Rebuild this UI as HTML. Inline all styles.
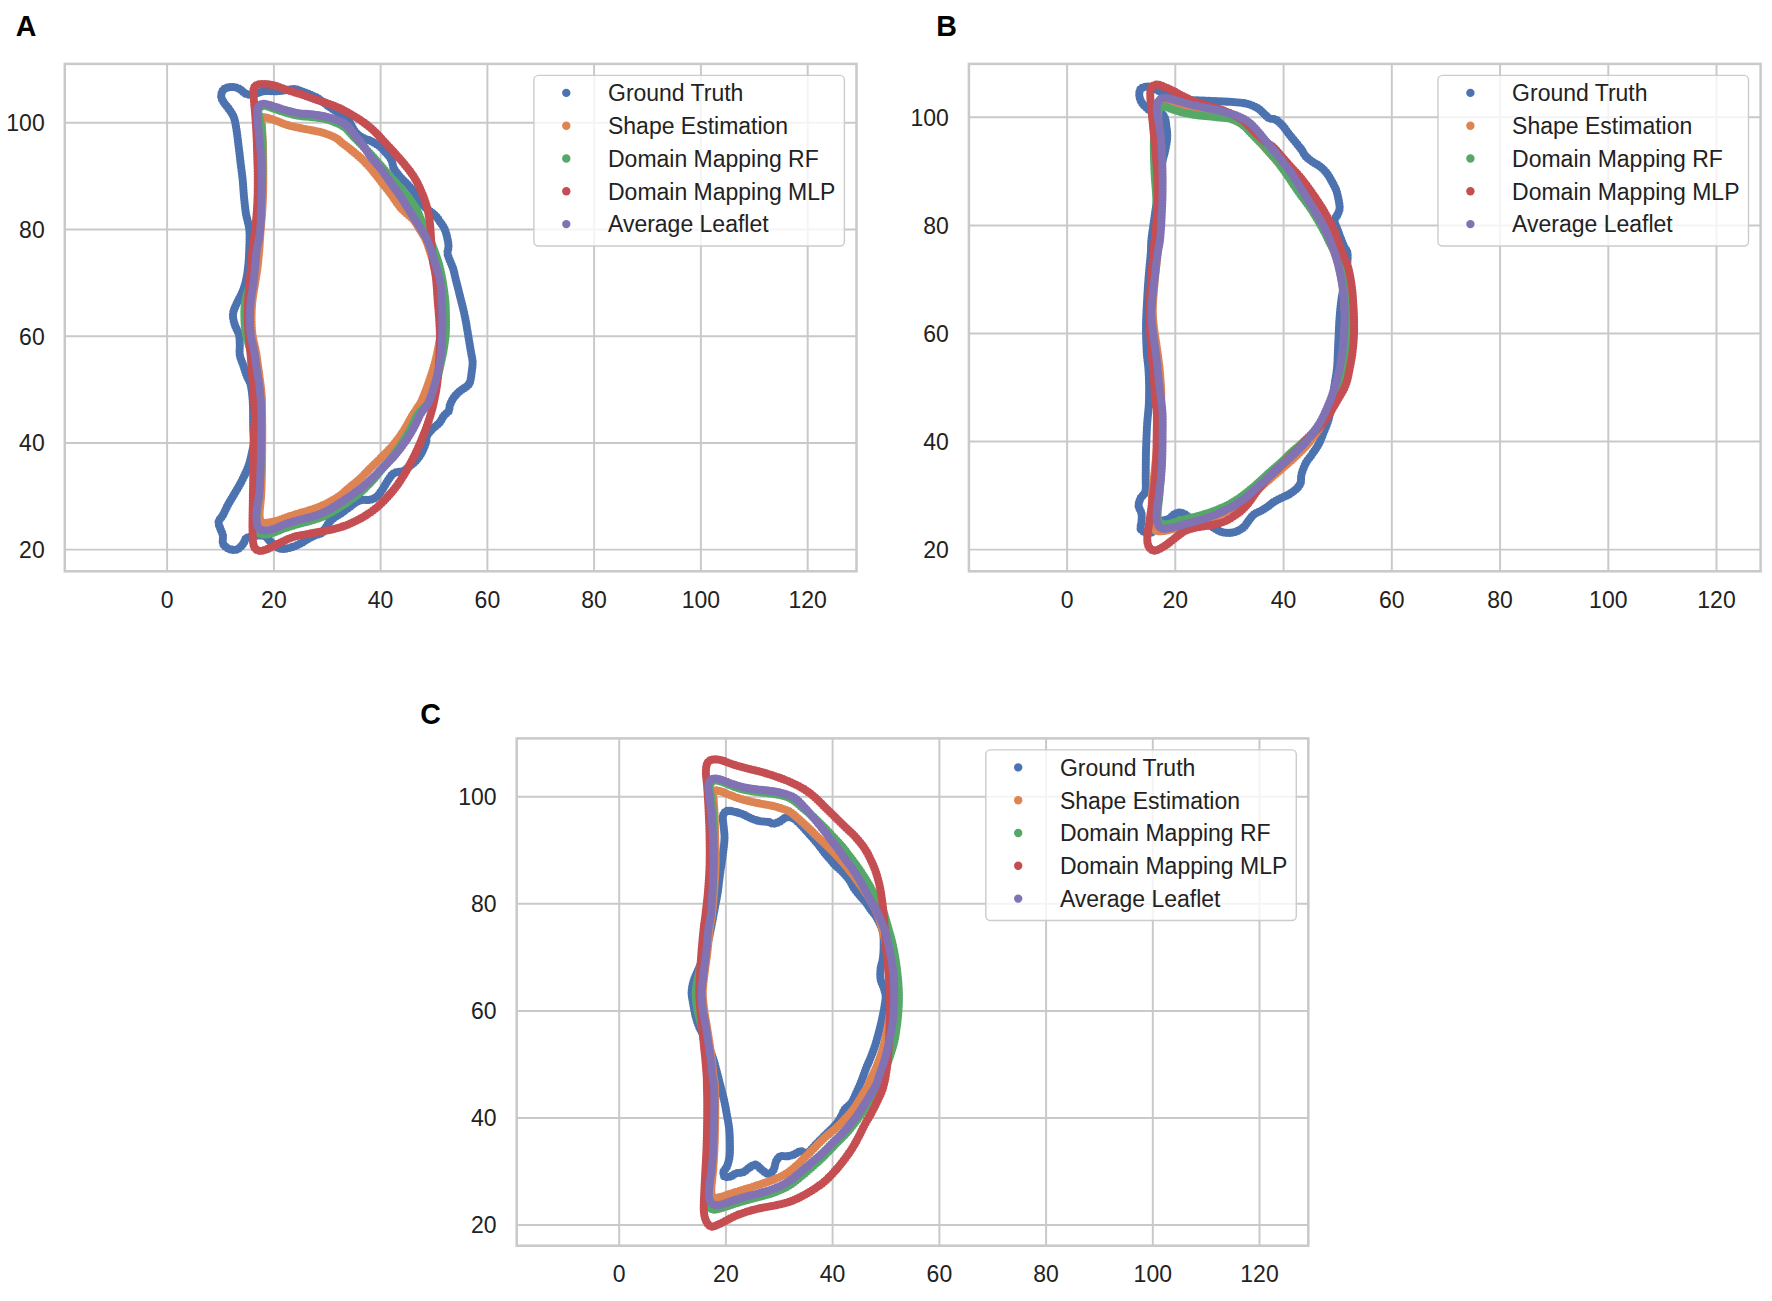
<!DOCTYPE html>
<html lang="en"><head><meta charset="utf-8"><title>Leaflet contours</title>
<style>html,body{margin:0;padding:0;background:#fff}svg{display:block}text{font-family:"Liberation Sans",Arial,Helvetica,sans-serif}.t{font-size:23.0px;fill:#222222}.pl{font-size:28.6px;font-weight:bold;fill:#000}.c{fill:none;stroke-width:8.1;stroke-linecap:round;stroke-linejoin:round;stroke-dasharray:0 2.9}.g{stroke:#c9c9c9;stroke-width:1.95;fill:none}.f{stroke:#c9c9c9;stroke-width:2.5;fill:none}</style></head><body>
<svg width="1772" height="1301" viewBox="0 0 1772 1301">
<rect width="1772" height="1301" fill="#fff"/>
<g id="panelA">
<text class="pl" transform="translate(15.8 36.2) scale(1 1.05)">A</text>
<path class="g" d="M167.1 63.9V571.3M273.9 63.9V571.3M380.6 63.9V571.3M487.4 63.9V571.3M594.1 63.9V571.3M700.9 63.9V571.3M807.7 63.9V571.3M64.8 549.6H856.5M64.8 442.9H856.5M64.8 336.2H856.5M64.8 229.4H856.5M64.8 122.7H856.5"/>
<clipPath id="cp0"><rect x="64.8" y="63.9" width="791.7" height="507.4"/></clipPath>
<g clip-path="url(#cp0)">
<path class="c" stroke="#4c72b0" d="M253.2 427.8C253.0 421.1 253.2 409.4 252.8 402.4C252.4 395.3 251.8 390.0 250.8 385.4C249.7 380.9 247.8 378.7 246.6 375.3C245.3 371.9 244.3 368.5 243.2 365.1C242.0 361.7 240.3 358.4 239.8 355.0C239.2 351.6 239.9 348.2 239.8 344.8C239.6 341.4 239.8 338.0 238.9 334.7C238.1 331.3 235.7 327.9 234.7 324.5C233.7 321.1 232.7 317.7 233.0 314.3C233.3 310.9 234.8 307.8 236.4 304.2C238.0 300.5 240.7 296.3 242.3 292.3C243.9 288.4 245.1 284.7 246.0 280.5C247.0 276.2 247.6 271.4 248.1 266.9C248.6 262.4 248.9 259.4 249.1 253.4C249.3 247.4 249.9 237.4 249.4 230.8C248.9 224.3 247.0 219.5 246.0 213.9C245.1 208.3 244.6 202.6 244.0 197.0C243.5 191.3 243.2 185.7 242.7 180.0C242.1 174.4 241.3 168.8 240.6 163.1C240.0 157.5 239.3 151.8 238.6 146.2C237.9 140.5 237.2 134.1 236.4 129.3C235.6 124.5 235.1 120.8 233.9 117.4C232.6 114.0 230.5 111.5 228.8 108.9C227.1 106.4 225.0 104.3 223.7 102.2C222.4 100.1 221.2 98.4 221.2 96.2C221.2 94.1 222.0 91.0 223.7 89.5C225.4 87.9 228.8 87.1 231.3 86.9C233.9 86.8 236.5 87.5 238.9 88.6C241.3 89.8 243.5 92.7 245.7 93.7C248.0 94.7 249.4 95.0 252.5 94.5C255.6 94.1 260.4 91.7 264.3 91.2C268.3 90.6 272.2 91.4 276.2 91.2C280.1 91.0 284.9 90.3 288.0 90.0C291.1 89.6 292.6 88.8 294.8 89.0C297.1 89.2 299.0 90.2 301.6 91.2C304.1 92.1 307.2 93.3 310.0 94.5C312.9 95.8 315.4 96.8 318.5 98.8C321.6 100.8 325.3 104.0 328.7 106.4C332.1 108.8 335.7 111.1 338.8 113.2C341.9 115.3 345.2 117.0 347.3 119.1C349.4 121.2 350.1 123.6 351.5 125.9C352.9 128.1 353.9 130.7 355.8 132.6C357.6 134.6 360.0 136.3 362.5 137.7C365.1 139.1 368.2 139.7 371.0 141.1C373.8 142.5 376.9 144.2 379.5 146.2C382.0 148.2 384.3 150.7 386.2 153.0C388.2 155.2 390.0 157.2 391.3 159.7C392.6 162.3 392.4 165.4 393.8 168.2C395.3 171.0 397.4 173.8 399.8 176.7C402.2 179.5 405.7 182.3 408.2 185.1C410.8 187.9 413.0 190.8 415.0 193.6C417.0 196.4 418.1 199.5 420.1 202.1C422.1 204.6 424.3 206.6 426.9 208.8C429.4 211.1 433.1 213.3 435.3 215.6C437.6 217.9 438.9 220.1 440.4 222.4C442.0 224.6 443.5 226.6 444.6 229.1C445.8 231.7 446.5 234.8 447.2 237.6C447.8 240.4 448.5 243.4 448.5 246.1C448.6 248.7 447.3 251.0 447.5 253.4C447.7 255.7 448.8 257.6 449.7 260.2C450.6 262.7 452.1 265.5 453.1 268.6C454.1 271.7 454.8 275.4 455.6 278.8C456.5 282.2 457.3 285.6 458.2 288.9C459.0 292.3 459.9 295.7 460.7 299.1C461.6 302.5 462.4 305.6 463.3 309.3C464.1 312.9 465.1 317.4 465.8 321.1C466.5 324.8 466.9 327.9 467.5 331.3C468.1 334.7 468.6 338.0 469.2 341.4C469.8 344.8 470.3 348.2 470.9 351.6C471.4 355.0 472.4 358.4 472.6 361.7C472.7 365.1 472.3 368.2 471.7 371.9C471.2 375.6 471.0 380.6 469.2 383.7C467.4 386.9 463.3 388.3 460.7 390.5C458.2 392.8 455.8 394.8 454.0 397.3C452.1 399.8 450.6 403.5 449.7 405.8C448.9 408.0 449.9 409.1 448.9 410.8C447.9 412.5 445.3 413.9 443.8 415.9C442.2 417.9 441.5 420.4 439.6 422.7C437.6 424.9 434.1 427.2 431.9 429.5C429.8 431.7 427.8 434.1 426.9 436.2C425.9 438.4 426.9 439.6 426.0 442.3C425.2 445.0 423.5 449.4 421.8 452.5C420.1 455.6 417.8 458.7 415.9 460.9C413.9 463.2 412.0 464.3 409.9 466.0C407.8 467.7 405.7 470.0 403.2 471.1C400.6 472.2 397.0 471.7 394.7 472.8C392.4 473.9 391.2 475.9 389.6 477.9C388.1 479.9 386.8 482.4 385.4 484.7C384.0 486.9 382.7 489.3 381.2 491.4C379.6 493.5 378.0 495.9 376.1 497.3C374.1 498.8 371.6 499.5 369.3 499.9C367.0 500.3 364.8 499.5 362.5 499.9C360.3 500.3 358.0 501.2 355.8 502.4C353.5 503.7 351.2 505.8 349.0 507.5C346.7 509.2 344.5 511.0 342.2 512.6C340.0 514.1 337.6 515.3 335.4 516.8C333.3 518.4 331.1 520.2 329.5 521.9C328.0 523.6 327.4 525.1 326.1 527.0C324.9 528.8 323.7 531.5 321.9 532.9C320.1 534.3 317.4 534.5 315.1 535.4C312.9 536.4 310.9 537.4 308.4 538.8C305.8 540.2 302.7 542.5 299.9 543.9C297.1 545.3 294.2 546.4 291.4 547.3C288.6 548.1 285.4 549.0 283.0 549.0C280.6 549.0 278.9 548.3 277.0 547.3C275.2 546.3 273.4 544.3 272.0 543.1C270.5 541.8 269.7 540.8 268.6 539.7C267.4 538.5 266.7 537.0 265.2 536.3C263.6 535.6 261.1 535.4 259.3 535.4C257.4 535.4 256.3 535.9 254.2 536.3C252.1 536.7 248.4 536.7 246.6 538.0C244.7 539.2 244.6 542.1 243.2 543.9C241.8 545.7 239.9 548.0 238.1 549.0C236.3 550.0 234.1 550.1 232.2 549.8C230.2 549.5 227.8 548.4 226.2 547.3C224.7 546.2 223.4 545.0 222.9 543.1C222.3 541.1 223.3 537.8 222.9 535.4C222.4 533.0 221.0 530.9 220.3 528.7C219.6 526.4 218.2 524.2 218.6 521.9C219.0 519.6 221.3 517.9 222.9 515.1C224.4 512.3 226.1 508.4 227.9 505.0C229.8 501.6 231.9 498.2 233.9 494.8C235.8 491.4 238.0 488.0 239.8 484.7C241.6 481.3 243.3 477.9 244.9 474.5C246.4 471.1 248.0 467.7 249.1 464.3C250.2 460.9 250.8 457.8 251.6 454.2C252.4 450.5 253.6 446.7 253.8 442.3C254.1 437.9 253.3 434.4 253.2 427.8Z"/>
<path class="c" stroke="#dd8452" d="M259.6 515.1C259.5 510.3 260.9 501.0 261.3 493.1C261.7 485.2 261.8 477.6 262.0 467.7C262.1 457.8 262.3 443.5 262.3 433.9C262.3 424.3 262.1 416.8 262.0 410.2C261.9 403.5 262.2 400.8 261.6 393.9C261.0 387.0 259.4 375.6 258.4 368.5C257.4 361.5 256.9 357.2 255.9 351.6C254.9 345.9 253.2 340.3 252.5 334.7C251.8 329.0 251.6 323.4 251.6 317.7C251.6 312.1 251.9 306.4 252.5 300.8C253.0 295.1 254.2 289.5 255.0 283.9C255.9 278.2 256.9 272.6 257.6 266.9C258.3 261.3 258.7 256.0 259.3 250.0C259.8 244.0 260.0 238.3 260.6 230.8C261.2 223.4 262.2 213.9 262.6 205.4C263.1 197.0 263.2 188.5 263.3 180.0C263.4 171.6 263.3 161.7 263.1 154.7C263.0 147.6 262.8 142.5 262.6 137.7C262.4 132.9 262.1 129.2 262.0 125.9C261.9 122.5 261.0 118.9 262.0 117.6C262.9 116.3 265.3 117.5 267.7 118.1C270.1 118.6 272.8 119.6 276.2 120.8C279.6 122.0 283.8 123.9 288.0 125.2C292.3 126.5 297.1 127.4 301.6 128.4C306.1 129.4 311.2 130.1 315.1 130.9C319.1 131.8 321.9 132.4 325.3 133.5C328.7 134.6 332.8 136.3 335.4 137.7C338.0 139.1 338.4 140.0 340.9 142.0C343.3 143.9 346.9 146.6 350.2 149.2C353.4 151.9 356.9 154.5 360.3 157.7C363.7 160.9 367.1 164.3 370.5 168.2C373.9 172.1 377.3 176.6 380.6 180.9C384.0 185.2 388.0 190.1 390.8 193.9C393.6 197.7 395.6 201.1 397.6 203.7C399.6 206.4 400.1 207.3 402.8 210.0C405.5 212.7 410.8 216.8 413.7 220.0C416.5 223.2 417.8 226.3 419.8 229.5C421.7 232.6 423.7 235.0 425.5 239.0C427.3 242.9 429.0 248.7 430.6 253.4C432.2 258.0 433.7 261.9 435.0 266.9C436.2 272.0 437.2 278.2 438.0 283.9C438.9 289.5 439.4 295.1 439.9 300.8C440.3 306.4 440.7 312.1 440.7 317.7C440.8 323.4 440.9 329.0 440.4 334.7C439.9 340.3 438.5 346.5 437.5 351.6C436.5 356.7 435.9 359.5 434.3 365.1C432.7 370.8 429.9 379.2 427.7 385.4C425.5 391.6 422.5 398.8 420.9 402.4C419.3 405.9 419.6 404.3 418.1 406.8C416.5 409.2 413.8 413.3 411.6 416.9C409.4 420.6 407.1 425.1 404.9 428.8C402.6 432.4 400.6 435.6 398.1 438.9C395.5 442.3 392.7 445.7 389.6 449.1C386.5 452.5 382.8 455.9 379.5 459.3C376.1 462.6 372.7 466.0 369.3 469.4C365.9 472.8 362.5 476.5 359.1 479.6C355.8 482.7 352.4 485.2 349.0 488.0C345.6 490.9 342.5 494.0 338.8 496.5C335.2 499.0 330.9 501.3 327.0 503.3C323.0 505.2 319.4 506.8 315.1 508.4C310.9 509.9 306.1 511.2 301.6 512.6C297.1 514.0 292.3 515.4 288.0 516.8C283.8 518.2 279.6 520.1 276.2 521.0C272.8 522.0 270.1 522.5 267.7 522.7C265.3 522.9 263.1 523.5 261.8 522.2C260.4 521.0 259.7 520.0 259.6 515.1Z"/>
<path class="c" stroke="#55a868" d="M256.2 518.5C256.8 513.0 258.5 501.6 259.3 493.1C260.0 484.7 260.3 477.6 260.6 467.7C260.9 457.8 260.9 443.5 260.9 433.9C260.9 424.3 260.8 415.4 260.6 410.2C260.5 404.9 260.5 406.5 260.1 402.4C259.7 398.3 259.3 391.1 258.4 385.4C257.6 379.8 256.3 374.2 255.0 368.5C253.8 362.9 252.3 357.2 250.8 351.6C249.3 345.9 247.1 340.3 246.0 334.7C245.0 329.0 244.5 323.4 244.4 317.7C244.2 312.1 244.4 306.4 245.4 300.8C246.3 295.1 248.6 289.5 249.9 283.9C251.3 278.2 252.3 272.6 253.3 266.9C254.3 261.3 254.9 256.0 255.9 250.0C256.9 244.0 258.4 238.3 259.3 230.8C260.1 223.4 260.4 213.9 260.9 205.4C261.5 197.0 262.0 188.5 262.3 180.0C262.6 171.6 262.6 161.7 262.6 154.7C262.6 147.6 262.7 143.4 262.3 137.7C261.9 132.1 260.8 125.4 260.1 120.8C259.5 116.2 257.8 112.8 258.4 110.3C259.0 107.8 261.1 106.1 263.5 105.7C265.9 105.4 269.3 107.2 272.8 108.3C276.3 109.4 280.4 111.1 284.7 112.3C288.9 113.6 293.7 114.9 298.2 115.7C302.7 116.5 307.2 116.5 311.7 117.1C316.3 117.6 321.0 118.1 325.3 119.1C329.5 120.1 333.7 121.7 337.1 123.2C340.5 124.7 342.9 125.9 345.6 128.1C348.3 130.3 350.4 133.4 353.2 136.4C356.0 139.3 359.4 142.5 362.5 145.7C365.6 148.9 368.4 151.7 371.8 155.5C375.3 159.3 379.3 164.1 383.4 168.7C387.4 173.3 391.8 178.2 395.9 182.9C400.0 187.7 404.7 192.9 408.1 197.1C411.5 201.4 414.1 204.9 416.2 208.5C418.3 212.1 418.8 214.6 420.6 218.6C422.4 222.7 424.9 228.1 426.9 232.5C428.8 237.0 430.8 241.6 432.3 245.2C433.7 248.8 434.4 250.6 435.7 254.2C436.9 257.8 438.5 262.0 439.7 266.9C441.0 271.9 442.2 278.2 443.1 283.9C444.0 289.5 444.8 295.1 445.3 300.8C445.8 306.4 445.9 312.1 446.0 317.7C446.0 323.4 446.1 329.1 445.7 334.7C445.2 340.2 444.4 345.4 443.5 350.7C442.5 356.1 441.4 360.9 440.1 366.8C438.7 372.7 437.2 380.2 435.3 386.3C433.4 392.4 431.4 398.7 428.6 403.2C425.7 407.8 421.1 409.8 418.4 413.5C415.7 417.2 414.6 421.4 412.5 425.4C410.4 429.3 408.1 433.3 405.7 437.2C403.3 441.2 400.8 445.3 398.1 449.1C395.4 452.9 392.6 456.4 389.6 460.1C386.7 463.8 383.4 467.4 380.3 471.1C377.2 474.8 374.4 478.5 371.0 482.1C367.6 485.7 363.8 489.5 360.0 492.8C356.2 496.0 352.1 498.8 348.1 501.6C344.2 504.4 340.2 507.1 336.3 509.5C332.3 511.9 328.5 514.1 324.4 516.0C320.3 517.8 316.1 519.2 311.7 520.5C307.4 521.9 302.7 522.8 298.2 524.1C293.7 525.4 288.6 526.9 284.7 528.3C280.7 529.7 277.7 531.3 274.5 532.4C271.2 533.4 267.9 534.5 265.2 534.6C262.5 534.7 260.0 534.3 258.4 532.9C256.9 531.5 256.2 528.5 255.9 526.1C255.5 523.7 255.6 524.0 256.2 518.5Z"/>
<path class="c" stroke="#c44e52" d="M252.5 527.0C252.4 519.9 252.7 511.5 252.8 501.6C253.0 491.7 253.2 479.0 253.3 467.7C253.5 456.4 253.6 441.9 253.8 433.9C254.1 425.8 254.8 424.5 254.9 419.3C254.9 414.1 254.5 408.0 254.2 402.4C253.9 396.7 253.4 391.1 253.0 385.4C252.6 379.8 252.1 374.2 251.6 368.5C251.2 362.9 250.8 357.2 250.3 351.6C249.8 345.9 249.0 340.3 248.6 334.7C248.2 329.0 247.8 323.4 247.7 317.7C247.7 312.1 247.8 306.4 248.1 300.8C248.4 295.1 248.9 289.5 249.4 283.9C249.9 278.2 250.6 272.6 251.1 266.9C251.6 261.3 251.8 256.0 252.5 250.0C253.1 244.0 254.2 238.3 255.0 230.8C255.8 223.4 256.8 213.9 257.2 205.4C257.7 197.0 257.7 188.5 257.7 180.0C257.7 171.6 257.5 163.1 257.2 154.7C257.0 146.2 256.6 136.3 256.2 129.3C255.8 122.2 255.4 117.4 255.0 112.3C254.6 107.2 254.0 102.7 253.8 98.8C253.6 94.8 253.1 91.0 253.8 88.6C254.6 86.2 256.1 85.1 258.4 84.4C260.7 83.7 264.8 84.1 267.7 84.4C270.7 84.7 272.8 85.1 276.2 86.1C279.6 87.1 283.8 88.9 288.0 90.3C292.3 91.7 296.5 92.9 301.6 94.5C306.7 96.2 312.9 98.5 318.5 100.5C324.2 102.4 330.4 104.3 335.4 106.4C340.5 108.5 344.5 110.6 349.0 113.2C353.5 115.7 358.3 118.6 362.5 121.6C366.8 124.7 370.6 127.7 374.4 131.3C378.2 134.9 381.7 139.2 385.4 143.1C389.1 147.1 392.9 151.0 396.4 155.0C399.9 158.9 403.4 162.9 406.5 166.8C409.7 170.8 412.6 174.7 415.0 178.7C417.4 182.6 419.2 186.6 420.9 190.5C422.7 194.5 424.2 198.4 425.5 202.4C426.8 206.3 427.8 210.3 428.6 214.2C429.3 218.2 429.8 221.9 430.2 226.1C430.7 230.3 430.8 234.9 431.1 239.3C431.4 243.7 431.6 248.6 431.9 252.5C432.3 256.4 432.6 259.2 433.1 262.7C433.7 266.2 434.8 270.2 435.3 273.7C435.9 277.2 436.1 279.3 436.5 283.9C436.9 288.4 437.3 295.1 437.7 300.8C438.1 306.4 438.7 312.1 439.1 317.7C439.4 323.4 439.8 329.0 439.9 334.7C440.0 340.3 439.8 346.2 439.6 351.6C439.4 356.9 439.1 361.2 438.7 366.8C438.3 372.5 437.7 380.1 437.0 385.4C436.3 390.8 435.3 394.9 434.5 399.0C433.6 403.1 433.1 406.0 431.9 410.2C430.8 414.3 429.3 419.2 427.7 423.7C426.2 428.2 424.5 432.7 422.6 437.2C420.8 441.8 418.8 446.3 416.7 450.8C414.6 455.3 412.2 460.1 409.9 464.3C407.7 468.6 405.4 472.5 403.2 476.2C400.9 479.9 398.9 483.0 396.4 486.3C393.8 489.7 391.0 493.1 387.9 496.5C384.8 499.9 381.2 503.7 377.8 506.7C374.4 509.6 371.3 511.9 367.6 514.3C363.9 516.7 359.7 519.1 355.8 521.0C351.8 523.0 347.9 524.7 343.9 526.1C340.0 527.5 336.3 528.5 332.1 529.5C327.8 530.5 323.0 531.2 318.5 532.1C314.0 532.9 309.2 533.7 305.0 534.6C300.7 535.4 297.1 535.9 293.1 537.1C289.2 538.4 284.9 540.5 281.3 542.2C277.6 543.9 274.2 545.9 271.1 547.3C268.0 548.7 265.0 550.3 262.6 550.7C260.2 551.1 258.3 551.0 256.7 549.8C255.2 548.7 254.0 547.7 253.3 543.9C252.6 540.1 252.6 534.0 252.5 527.0Z"/>
<path class="c" stroke="#8172b3" d="M256.7 510.0C257.1 505.2 258.6 500.2 259.3 493.1C259.9 486.1 260.3 477.6 260.6 467.7C260.9 457.8 261.2 443.5 261.3 433.9C261.4 424.3 261.3 415.4 261.3 410.2C261.2 404.9 261.3 406.5 260.9 402.4C260.6 398.3 260.0 391.1 259.3 385.4C258.5 379.8 257.6 374.2 256.7 368.5C255.9 362.9 255.2 357.2 254.2 351.6C253.2 345.9 251.5 340.3 250.8 334.7C250.1 329.0 249.9 323.4 249.9 317.7C249.9 312.1 250.2 306.4 250.8 300.8C251.4 295.1 252.6 289.5 253.3 283.9C254.0 278.2 254.5 272.6 255.0 266.9C255.6 261.3 255.9 256.0 256.7 250.0C257.6 244.0 259.3 238.3 260.1 230.8C260.9 223.4 261.0 213.9 261.3 205.4C261.6 197.0 261.9 188.5 261.8 180.0C261.7 171.6 261.4 161.7 260.9 154.7C260.5 147.6 259.8 143.4 259.3 137.7C258.7 132.1 257.8 125.6 257.6 120.8C257.3 116.0 256.7 111.8 257.6 108.9C258.4 106.1 260.4 104.4 262.6 103.9C264.9 103.3 267.4 104.6 271.1 105.6C274.8 106.5 280.1 108.5 284.7 109.8C289.2 111.1 293.7 112.4 298.2 113.2C302.7 113.9 307.2 113.8 311.7 114.4C316.3 114.9 320.8 115.5 325.3 116.6C329.8 117.6 335.2 119.2 338.8 120.8C342.5 122.3 344.8 123.6 347.3 125.9C349.8 128.1 351.5 131.2 354.1 134.3C356.6 137.4 359.8 140.8 362.5 144.5C365.3 148.2 367.5 152.5 370.5 156.5C373.5 160.5 377.3 164.3 380.6 168.7C384.0 173.1 387.4 178.2 390.8 182.9C394.2 187.7 398.1 193.0 401.0 197.1C403.8 201.3 405.4 204.2 407.7 208.0C410.1 211.8 412.9 216.4 415.2 220.0C417.4 223.6 419.4 226.3 421.3 229.5C423.2 232.6 425.0 235.3 426.7 239.0C428.4 242.7 430.2 247.7 431.6 251.7C433.0 255.6 433.7 259.2 434.8 262.7C435.9 266.2 437.1 269.3 438.0 272.9C439.0 276.4 440.0 279.2 440.6 283.9C441.2 288.5 441.3 295.1 441.6 300.8C441.9 306.4 442.2 312.1 442.3 317.7C442.4 323.4 442.3 329.0 442.1 334.7C441.9 340.3 441.8 346.2 441.3 351.6C440.7 356.9 440.2 361.2 439.1 366.8C437.9 372.5 436.2 379.5 434.5 385.4C432.7 391.4 430.8 397.7 428.6 402.4C426.3 407.1 423.2 409.7 420.9 413.5C418.7 417.4 417.1 421.4 415.0 425.4C412.9 429.3 410.8 433.3 408.2 437.2C405.7 441.2 402.6 445.4 399.8 449.1C397.0 452.8 394.4 455.9 391.3 459.3C388.2 462.6 384.5 466.0 381.2 469.4C377.8 472.8 374.7 476.2 371.0 479.6C367.3 483.0 363.1 486.6 359.1 489.7C355.2 492.8 351.2 495.5 347.3 498.2C343.3 500.9 339.4 503.4 335.4 505.8C331.5 508.2 327.5 510.8 323.6 512.6C319.6 514.4 316.0 515.5 311.7 516.8C307.5 518.1 302.7 518.9 298.2 520.2C293.7 521.5 288.6 523.0 284.7 524.4C280.7 525.8 277.7 527.7 274.5 528.7C271.2 529.7 267.7 530.4 265.2 530.4C262.6 530.4 260.7 530.1 259.3 528.7C257.8 527.3 257.1 525.0 256.7 521.9C256.3 518.8 256.3 514.8 256.7 510.0Z"/>
</g>
<rect class="f" x="64.8" y="63.9" width="791.7" height="507.4"/>
<text class="t" text-anchor="middle" transform="translate(167.1 607.8) scale(1 1.06)">0</text>
<text class="t" text-anchor="middle" transform="translate(273.9 607.8) scale(1 1.06)">20</text>
<text class="t" text-anchor="middle" transform="translate(380.6 607.8) scale(1 1.06)">40</text>
<text class="t" text-anchor="middle" transform="translate(487.4 607.8) scale(1 1.06)">60</text>
<text class="t" text-anchor="middle" transform="translate(594.1 607.8) scale(1 1.06)">80</text>
<text class="t" text-anchor="middle" transform="translate(700.9 607.8) scale(1 1.06)">100</text>
<text class="t" text-anchor="middle" transform="translate(807.7 607.8) scale(1 1.06)">120</text>
<text class="t" text-anchor="end" transform="translate(44.7 557.9) scale(1 1.06)">20</text>
<text class="t" text-anchor="end" transform="translate(44.7 451.2) scale(1 1.06)">40</text>
<text class="t" text-anchor="end" transform="translate(44.7 344.5) scale(1 1.06)">60</text>
<text class="t" text-anchor="end" transform="translate(44.7 237.7) scale(1 1.06)">80</text>
<text class="t" text-anchor="end" transform="translate(44.7 131.0) scale(1 1.06)">100</text>
<rect x="533.9" y="75.4" width="310.5" height="170.6" rx="4.5" ry="4.5" fill="#fff" fill-opacity="0.8" stroke="#cccccc" stroke-width="1.4"/>
<circle cx="566.3" cy="92.9" r="4.2" fill="#4c72b0"/>
<text class="t" transform="translate(608.0 101.2) scale(1 1.03)">Ground Truth</text>
<circle cx="566.3" cy="125.7" r="4.2" fill="#dd8452"/>
<text class="t" transform="translate(608.0 134.0) scale(1 1.03)">Shape Estimation</text>
<circle cx="566.3" cy="158.5" r="4.2" fill="#55a868"/>
<text class="t" transform="translate(608.0 166.8) scale(1 1.03)">Domain Mapping RF</text>
<circle cx="566.3" cy="191.3" r="4.2" fill="#c44e52"/>
<text class="t" transform="translate(608.0 199.6) scale(1 1.03)">Domain Mapping MLP</text>
<circle cx="566.3" cy="224.1" r="4.2" fill="#8172b3"/>
<text class="t" transform="translate(608.0 232.4) scale(1 1.03)">Average Leaflet</text>
</g>
<g id="panelB">
<text class="pl" transform="translate(936.2 36.2) scale(1 1.05)">B</text>
<path class="g" d="M1067.1 63.9V571.3M1175.3 63.9V571.3M1283.6 63.9V571.3M1391.8 63.9V571.3M1500.1 63.9V571.3M1608.3 63.9V571.3M1716.5 63.9V571.3M968.9 549.6H1760.6M968.9 441.5H1760.6M968.9 333.4H1760.6M968.9 225.4H1760.6M968.9 117.3H1760.6"/>
<clipPath id="cp1"><rect x="968.9" y="63.9" width="791.7" height="507.4"/></clipPath>
<g clip-path="url(#cp1)">
<path class="c" stroke="#4c72b0" d="M1140.6 528.7C1140.1 527.0 1141.3 524.4 1141.5 521.9C1141.6 519.4 1142.0 516.1 1141.5 513.4C1141.0 510.8 1138.7 508.4 1138.6 505.8C1138.5 503.3 1139.5 500.6 1140.6 498.2C1141.8 495.8 1144.5 495.1 1145.4 491.4C1146.2 487.8 1145.6 483.0 1145.7 476.2C1145.8 469.4 1145.8 459.3 1146.0 450.8C1146.3 442.3 1146.6 433.0 1147.1 425.4C1147.5 417.8 1148.4 411.7 1148.8 405.1C1149.1 398.4 1149.2 391.5 1149.1 385.4C1149.0 379.3 1148.8 374.2 1148.4 368.5C1148.0 362.9 1147.1 358.6 1146.7 351.6C1146.3 344.5 1146.0 334.7 1146.0 326.2C1146.1 317.7 1146.6 309.3 1147.1 300.8C1147.5 292.3 1148.1 283.3 1148.8 275.4C1149.4 267.5 1150.3 259.4 1150.8 253.4C1151.2 247.4 1150.8 245.9 1151.5 239.3C1152.2 232.7 1153.8 222.4 1155.0 213.9C1156.2 205.4 1157.5 196.4 1158.6 188.5C1159.6 180.6 1160.2 172.8 1161.3 166.5C1162.4 160.2 1164.2 155.2 1165.2 150.4C1166.2 145.6 1167.0 141.5 1167.2 137.7C1167.4 133.9 1167.0 130.9 1166.5 127.6C1166.1 124.2 1165.9 120.4 1164.7 117.7C1163.5 115.1 1161.6 112.7 1159.3 111.5C1156.9 110.3 1153.2 111.5 1150.8 110.6C1148.4 109.8 1146.6 108.1 1144.9 106.4C1143.2 104.7 1141.6 102.6 1140.6 100.5C1139.7 98.4 1139.1 95.7 1139.3 93.7C1139.4 91.7 1139.8 89.5 1141.5 88.3C1143.1 87.1 1146.4 86.3 1149.1 86.6C1151.8 86.9 1154.7 88.8 1157.6 90.3C1160.4 91.8 1162.9 94.0 1166.0 95.4C1169.1 96.8 1172.5 98.0 1176.2 98.8C1179.9 99.6 1183.8 99.9 1188.0 100.1C1192.3 100.4 1196.5 100.3 1201.6 100.5C1206.7 100.7 1212.9 101.0 1218.5 101.3C1224.2 101.6 1230.6 101.7 1235.4 102.2C1240.2 102.6 1243.6 102.9 1247.3 103.9C1251.0 104.8 1254.6 106.4 1257.4 108.1C1260.3 109.8 1262.2 112.3 1264.2 114.0C1266.2 115.7 1267.3 117.3 1269.3 118.3C1271.3 119.2 1273.8 118.7 1276.1 119.9C1278.3 121.2 1280.9 123.8 1282.8 125.9C1284.8 128.0 1285.9 130.1 1287.9 132.6C1289.9 135.2 1292.4 138.3 1294.7 141.1C1297.0 143.9 1299.6 147.0 1301.5 149.6C1303.3 152.1 1303.7 154.2 1305.7 156.3C1307.7 158.5 1310.9 160.6 1313.3 162.3C1315.7 164.0 1317.8 164.7 1320.1 166.5C1322.3 168.3 1324.9 170.7 1326.9 173.3C1328.8 175.8 1330.4 178.9 1331.9 181.7C1333.5 184.6 1335.0 187.1 1336.2 190.2C1337.3 193.3 1338.1 197.3 1338.7 200.4C1339.3 203.5 1339.8 206.3 1339.6 208.8C1339.3 211.4 1337.9 213.6 1337.0 215.6C1336.2 217.6 1334.3 218.1 1334.5 220.7C1334.6 223.2 1336.3 226.6 1337.9 230.8C1339.4 235.1 1342.2 242.3 1343.8 246.1C1345.4 249.8 1347.0 249.9 1347.5 253.4C1348.0 256.9 1347.4 261.9 1346.8 266.9C1346.3 272.0 1345.1 278.2 1344.1 283.9C1343.2 289.5 1342.0 295.1 1341.3 300.8C1340.5 306.4 1340.0 312.1 1339.6 317.7C1339.1 323.4 1339.0 329.0 1338.7 334.7C1338.4 340.3 1338.1 345.9 1337.9 351.6C1337.6 357.2 1337.6 362.9 1337.0 368.5C1336.5 374.2 1335.3 379.8 1334.5 385.4C1333.6 391.1 1332.9 396.7 1331.9 402.4C1331.0 408.0 1330.0 414.2 1328.6 419.3C1327.1 424.4 1325.2 428.6 1323.5 432.8C1321.8 437.1 1320.4 441.0 1318.4 444.7C1316.4 448.4 1313.7 451.7 1311.6 454.9C1309.5 458.0 1307.4 460.0 1305.7 463.3C1304.0 466.6 1302.3 471.2 1301.5 474.5C1300.6 477.8 1301.5 480.6 1300.6 483.0C1299.8 485.4 1298.2 487.0 1296.4 488.9C1294.6 490.7 1291.9 492.6 1289.6 494.0C1287.4 495.4 1285.4 496.1 1282.8 497.3C1280.3 498.6 1276.9 500.0 1274.4 501.6C1271.8 503.1 1269.9 505.1 1267.6 506.7C1265.3 508.2 1263.1 509.6 1260.8 510.9C1258.6 512.2 1256.0 512.7 1254.1 514.3C1252.1 515.8 1250.7 518.1 1249.0 520.2C1247.3 522.3 1245.9 525.1 1243.9 527.0C1241.9 528.8 1239.5 530.2 1237.1 531.2C1234.7 532.2 1232.1 532.8 1229.5 532.9C1227.0 533.0 1224.3 532.8 1221.9 532.1C1219.5 531.3 1217.4 529.9 1215.1 528.7C1212.9 527.4 1210.9 525.7 1208.4 524.4C1205.8 523.2 1203.0 522.0 1199.9 521.0C1196.8 520.1 1192.0 519.5 1189.7 518.5C1187.5 517.5 1187.9 516.1 1186.3 515.1C1184.8 514.1 1182.4 512.7 1180.4 512.6C1178.4 512.4 1176.3 513.3 1174.5 514.3C1172.7 515.3 1171.4 517.4 1169.4 518.5C1167.4 519.6 1164.6 519.8 1162.6 521.0C1160.7 522.3 1159.5 524.2 1157.6 526.1C1155.6 528.1 1152.9 531.9 1150.8 532.9C1148.7 533.9 1146.6 532.8 1144.9 532.1C1143.2 531.3 1141.2 530.4 1140.6 528.7Z"/>
<path class="c" stroke="#dd8452" d="M1154.2 528.7C1152.6 525.1 1152.5 515.7 1152.1 510.0C1151.8 504.4 1151.7 501.9 1152.1 494.8C1152.6 487.8 1154.0 477.9 1155.0 467.7C1156.1 457.6 1157.6 443.5 1158.4 433.9C1159.3 424.3 1159.6 416.8 1160.1 410.2C1160.6 403.5 1161.4 400.8 1161.3 393.9C1161.2 387.0 1160.4 377.0 1159.6 368.5C1158.7 360.0 1157.2 350.2 1156.2 343.1C1155.2 336.1 1154.4 331.8 1153.8 326.2C1153.3 320.5 1152.7 316.3 1152.8 309.3C1152.9 302.2 1153.8 292.3 1154.5 283.9C1155.2 275.4 1156.4 265.9 1157.2 258.5C1158.0 251.0 1158.6 246.7 1159.3 239.3C1159.9 231.9 1160.5 222.4 1160.9 213.9C1161.4 205.4 1161.7 197.0 1161.8 188.5C1161.9 180.0 1161.6 171.6 1161.3 163.1C1161.0 154.7 1160.6 144.8 1160.1 137.7C1159.6 130.7 1158.7 125.3 1158.4 120.8C1158.1 116.3 1157.8 113.3 1158.4 110.6C1159.0 108.0 1160.2 105.7 1161.8 104.7C1163.3 103.7 1165.3 104.3 1167.7 104.7C1170.1 105.1 1173.4 106.1 1176.2 106.9C1179.0 107.7 1181.0 108.4 1184.7 109.3C1188.3 110.1 1193.7 111.2 1198.2 112.0C1202.7 112.8 1207.2 113.2 1211.7 114.0C1216.3 114.8 1221.0 115.7 1225.3 116.9C1229.5 118.1 1233.6 119.5 1237.1 121.3C1240.7 123.1 1243.5 125.1 1246.4 127.6C1249.4 130.1 1252.1 133.3 1254.9 136.4C1257.7 139.4 1260.4 142.5 1263.4 145.8C1266.3 149.2 1269.4 152.8 1272.7 156.3C1275.9 159.9 1279.5 163.5 1282.8 167.3C1286.2 171.2 1289.9 175.2 1293.0 179.2C1296.1 183.1 1298.6 187.0 1301.5 191.0C1304.3 195.1 1307.3 199.5 1309.9 203.7C1312.6 208.0 1314.8 212.2 1317.2 216.4C1319.6 220.7 1322.2 224.9 1324.3 229.1C1326.4 233.4 1328.2 237.8 1329.9 241.8C1331.7 245.9 1333.4 249.2 1334.8 253.4C1336.3 257.6 1337.5 261.9 1338.7 266.9C1339.9 272.0 1341.2 278.2 1342.1 283.9C1343.0 289.5 1343.7 295.1 1344.1 300.8C1344.6 306.4 1344.9 312.1 1345.0 317.7C1345.0 323.4 1344.6 329.0 1344.3 334.7C1344.0 340.3 1343.6 345.9 1342.9 351.6C1342.3 357.2 1341.5 362.9 1340.4 368.5C1339.3 374.2 1338.1 379.8 1336.5 385.4C1335.0 391.1 1333.1 396.7 1331.1 402.4C1329.1 408.0 1326.9 414.1 1324.3 419.3C1321.8 424.5 1319.0 429.2 1315.9 433.7C1312.8 438.2 1309.4 442.3 1305.7 446.4C1302.0 450.5 1297.8 454.5 1293.8 458.2C1289.9 461.9 1286.1 465.0 1282.0 468.6C1277.9 472.1 1273.5 475.9 1269.3 479.6C1265.1 483.2 1260.8 487.0 1256.6 490.6C1252.4 494.1 1248.0 497.8 1243.9 500.7C1239.8 503.7 1236.3 506.0 1232.1 508.4C1227.8 510.8 1223.0 513.1 1218.5 515.1C1214.0 517.1 1209.2 518.8 1205.0 520.2C1200.7 521.6 1197.1 522.5 1193.1 523.6C1189.2 524.7 1184.9 526.0 1181.3 527.0C1177.6 528.0 1174.4 528.8 1171.1 529.5C1167.9 530.2 1164.6 531.3 1161.8 531.2C1159.0 531.1 1155.8 532.2 1154.2 528.7Z"/>
<path class="c" stroke="#55a868" d="M1157.6 515.1C1157.6 510.3 1159.0 501.0 1159.6 493.1C1160.2 485.2 1160.9 477.6 1161.3 467.7C1161.7 457.8 1161.8 443.5 1161.8 433.9C1161.8 424.3 1161.9 418.2 1161.3 410.2C1160.6 402.1 1158.9 393.8 1157.9 385.4C1156.9 377.1 1156.1 368.5 1155.0 360.0C1154.0 351.6 1152.5 341.7 1151.6 334.7C1150.8 327.6 1150.1 323.4 1149.9 317.7C1149.7 312.1 1150.0 307.8 1150.5 300.8C1150.9 293.7 1152.1 283.3 1152.8 275.4C1153.5 267.5 1153.8 262.2 1154.5 253.4C1155.2 244.5 1156.6 231.8 1156.9 222.4C1157.2 213.0 1156.6 205.4 1156.2 197.0C1155.8 188.5 1154.9 180.0 1154.5 171.6C1154.1 163.1 1153.8 153.2 1153.8 146.2C1153.8 139.1 1154.0 134.5 1154.5 129.3C1155.0 124.0 1155.4 118.6 1156.7 114.9C1158.1 111.1 1160.0 107.4 1162.6 106.6C1165.3 105.7 1169.1 108.5 1172.8 109.6C1176.5 110.7 1180.4 112.0 1184.7 113.0C1188.9 114.0 1193.7 114.8 1198.2 115.4C1202.7 116.0 1207.8 116.3 1211.7 116.7C1215.7 117.1 1218.6 117.3 1221.9 117.7C1225.2 118.1 1227.9 117.9 1231.4 119.1C1234.8 120.3 1238.8 121.9 1242.6 124.7C1246.3 127.5 1250.1 132.2 1253.9 136.0C1257.7 139.8 1261.5 143.3 1265.2 147.4C1269.0 151.5 1272.8 155.8 1276.6 160.6C1280.3 165.3 1284.0 170.6 1287.8 176.0C1291.5 181.3 1295.3 187.4 1299.1 192.7C1302.9 198.1 1307.4 203.6 1310.4 208.1C1313.5 212.7 1315.2 215.9 1317.6 219.8C1319.9 223.8 1322.3 227.8 1324.3 231.7C1326.4 235.5 1328.0 239.4 1329.9 243.0C1331.8 246.6 1333.8 249.4 1335.7 253.4C1337.6 257.4 1339.7 261.9 1341.3 266.9C1342.8 272.0 1344.1 278.2 1345.1 283.9C1346.2 289.5 1347.0 295.1 1347.5 300.8C1348.1 306.4 1348.4 312.1 1348.5 317.7C1348.6 323.4 1348.4 329.0 1348.0 334.7C1347.7 340.3 1347.1 345.9 1346.3 351.6C1345.6 357.2 1344.9 362.9 1343.5 368.5C1342.0 374.2 1339.9 379.8 1337.9 385.4C1335.8 391.1 1333.6 396.7 1331.1 402.4C1328.6 408.0 1325.6 414.4 1322.6 419.3C1319.7 424.2 1316.7 428.0 1313.3 432.0C1309.9 435.9 1306.3 439.3 1302.3 443.0C1298.4 446.7 1292.9 451.0 1289.6 454.0C1286.4 457.0 1286.2 457.8 1282.8 460.9C1279.5 464.1 1274.4 468.3 1269.3 472.8C1264.2 477.3 1258.0 483.4 1252.4 488.0C1246.7 492.7 1241.1 497.2 1235.4 500.7C1229.8 504.3 1224.2 506.8 1218.5 509.2C1212.9 511.6 1207.2 513.4 1201.6 515.1C1195.9 516.8 1189.7 518.0 1184.7 519.4C1179.6 520.7 1174.5 522.4 1171.1 523.3C1167.7 524.1 1166.3 524.7 1164.3 524.4C1162.4 524.2 1160.4 523.4 1159.3 521.9C1158.1 520.3 1157.5 519.9 1157.6 515.1Z"/>
<path class="c" stroke="#c44e52" d="M1147.4 535.4C1147.7 530.9 1149.0 525.6 1149.9 518.5C1150.9 511.5 1152.3 501.6 1153.3 493.1C1154.3 484.7 1155.3 477.6 1155.9 467.7C1156.4 457.8 1156.6 443.5 1156.7 433.9C1156.9 424.3 1157.0 415.4 1156.7 410.2C1156.5 404.9 1155.7 407.9 1155.2 402.4C1154.7 396.8 1154.5 385.4 1153.8 377.0C1153.2 368.5 1152.1 360.0 1151.5 351.6C1150.8 343.1 1150.1 334.7 1149.8 326.2C1149.5 317.7 1149.5 309.3 1149.8 300.8C1150.1 292.3 1150.8 283.3 1151.5 275.4C1152.1 267.5 1153.0 259.4 1153.5 253.4C1154.0 247.4 1154.2 244.5 1154.7 239.3C1155.2 234.1 1155.9 229.4 1156.4 222.4C1156.9 215.3 1157.4 205.4 1157.6 197.0C1157.7 188.5 1157.5 180.0 1157.1 171.6C1156.6 163.1 1155.6 153.2 1155.0 146.2C1154.4 139.1 1153.9 134.9 1153.3 129.3C1152.8 123.6 1152.1 117.7 1151.6 112.3C1151.1 107.0 1150.4 101.1 1150.3 97.1C1150.2 93.1 1150.1 90.4 1151.1 88.3C1152.2 86.2 1154.5 84.8 1156.7 84.6C1158.9 84.3 1161.7 85.9 1164.3 86.9C1167.0 87.9 1169.4 89.0 1172.8 90.7C1176.2 92.3 1180.7 95.2 1184.7 97.1C1188.6 99.0 1192.3 100.6 1196.5 102.2C1200.7 103.7 1205.5 105.0 1210.0 106.4C1214.6 107.8 1219.4 109.1 1223.6 110.6C1227.8 112.2 1231.8 113.7 1235.4 115.7C1239.1 117.7 1242.2 119.6 1245.6 122.5C1249.0 125.4 1252.4 129.7 1255.8 133.0C1259.1 136.2 1262.8 139.4 1265.9 142.0C1269.0 144.5 1270.6 144.6 1274.2 148.2C1277.8 151.8 1283.6 159.0 1287.8 163.6C1291.9 168.3 1295.3 171.5 1299.1 176.0C1302.9 180.5 1306.7 185.4 1310.4 190.7C1314.2 196.0 1318.0 201.4 1321.8 207.6C1325.5 213.8 1330.0 221.6 1333.0 228.0C1335.9 234.4 1337.9 241.3 1339.7 246.1C1341.5 250.9 1342.4 253.3 1343.8 256.8C1345.2 260.2 1346.8 262.4 1348.0 266.9C1349.3 271.4 1350.6 278.2 1351.4 283.9C1352.3 289.5 1352.7 295.1 1353.1 300.8C1353.5 306.4 1353.8 312.1 1354.0 317.7C1354.1 323.4 1354.2 329.0 1354.0 334.7C1353.7 340.3 1353.3 345.9 1352.6 351.6C1351.9 357.2 1350.9 362.9 1349.7 368.5C1348.5 374.2 1347.7 379.8 1345.5 385.4C1343.2 391.1 1339.4 396.7 1336.2 402.4C1332.9 408.0 1329.3 414.7 1326.0 419.3C1322.7 423.9 1319.4 426.7 1316.4 430.0C1313.3 433.2 1310.2 436.0 1307.6 438.8C1304.9 441.5 1303.2 443.7 1300.6 446.4C1298.1 449.1 1295.5 451.6 1292.2 454.9C1288.9 458.1 1285.0 462.0 1280.8 466.0C1276.6 470.1 1270.8 474.9 1266.8 479.2C1262.7 483.5 1259.6 487.9 1256.6 491.8C1253.6 495.6 1251.4 499.4 1249.0 502.4C1246.6 505.4 1244.5 507.6 1242.2 509.7C1240.0 511.8 1238.3 513.2 1235.4 515.1C1232.6 517.0 1228.7 519.5 1225.3 521.0C1221.9 522.6 1218.5 523.6 1215.1 524.4C1211.7 525.3 1208.4 525.6 1205.0 526.1C1201.6 526.7 1198.2 527.0 1194.8 527.8C1191.4 528.7 1187.8 529.7 1184.7 531.2C1181.5 532.8 1179.0 535.0 1176.2 537.1C1173.4 539.2 1170.5 541.9 1167.7 543.9C1164.9 545.9 1161.7 547.9 1159.3 549.0C1156.9 550.1 1155.2 551.2 1153.3 550.7C1151.5 550.1 1149.2 548.1 1148.3 545.6C1147.3 543.1 1147.1 540.0 1147.4 535.4Z"/>
<path class="c" stroke="#8172b3" d="M1156.7 511.7C1157.0 506.7 1158.4 500.5 1159.3 493.1C1160.1 485.8 1161.2 477.6 1161.8 467.7C1162.4 457.8 1162.6 443.5 1162.6 433.9C1162.7 424.3 1162.9 418.2 1162.3 410.2C1161.7 402.1 1160.2 393.8 1159.3 385.4C1158.3 377.1 1157.7 368.5 1156.7 360.0C1155.7 351.6 1154.2 341.7 1153.3 334.7C1152.5 327.6 1151.8 323.4 1151.6 317.7C1151.4 312.1 1151.6 307.8 1152.1 300.8C1152.7 293.7 1154.1 283.3 1155.0 275.4C1155.9 267.5 1156.7 259.4 1157.6 253.4C1158.4 247.4 1159.4 245.9 1160.1 239.3C1160.8 232.7 1161.4 222.4 1161.8 213.9C1162.2 205.4 1162.6 197.0 1162.6 188.5C1162.7 180.0 1162.6 171.6 1162.3 163.1C1162.0 154.7 1161.6 144.8 1160.9 137.7C1160.3 130.7 1159.1 125.6 1158.4 120.8C1157.7 116.0 1156.7 112.2 1156.7 108.9C1156.7 105.7 1157.1 103.2 1158.4 101.3C1159.7 99.5 1161.9 98.2 1164.3 97.9C1166.7 97.7 1169.4 98.8 1172.8 99.6C1176.2 100.5 1180.4 101.9 1184.7 103.0C1188.9 104.1 1193.7 105.4 1198.2 106.4C1202.7 107.4 1207.2 108.0 1211.7 108.9C1216.3 109.9 1220.8 111.1 1225.3 112.3C1229.8 113.6 1234.9 114.9 1238.8 116.6C1242.8 118.3 1245.9 120.1 1249.0 122.5C1252.1 124.9 1254.6 127.8 1257.4 130.9C1260.3 134.1 1263.1 137.7 1265.9 141.1C1268.7 144.5 1271.3 147.5 1274.4 151.3C1277.4 155.0 1281.1 159.4 1284.2 163.5C1287.3 167.5 1290.3 171.8 1293.0 175.8C1295.7 179.8 1297.5 183.1 1300.1 187.3C1302.7 191.5 1305.9 196.4 1308.6 200.9C1311.3 205.3 1313.7 209.5 1316.4 213.9C1319.0 218.3 1322.0 222.9 1324.3 227.4C1326.6 232.0 1328.5 236.7 1330.2 241.0C1332.0 245.3 1333.4 249.1 1334.8 253.4C1336.2 257.7 1337.5 261.9 1338.7 266.9C1339.9 272.0 1341.2 278.2 1342.1 283.9C1343.0 289.5 1343.7 295.1 1344.1 300.8C1344.6 306.4 1344.7 312.1 1344.6 317.7C1344.6 323.4 1344.2 329.0 1343.8 334.7C1343.4 340.3 1343.1 345.9 1342.4 351.6C1341.7 357.2 1340.7 362.9 1339.6 368.5C1338.4 374.2 1337.0 379.8 1335.3 385.4C1333.6 391.1 1331.7 396.7 1329.4 402.4C1327.1 408.0 1324.5 414.2 1321.8 419.3C1319.1 424.4 1316.4 428.6 1313.3 432.8C1310.2 437.1 1306.8 440.7 1303.2 444.7C1299.5 448.6 1295.3 452.8 1291.3 456.5C1287.4 460.2 1283.4 463.3 1279.5 466.9C1275.5 470.4 1271.6 474.2 1267.6 477.9C1263.7 481.5 1259.7 485.4 1255.8 488.9C1251.8 492.4 1247.9 496.1 1243.9 499.0C1240.0 502.0 1236.3 504.3 1232.1 506.7C1227.8 509.1 1223.0 511.5 1218.5 513.4C1214.0 515.4 1209.2 517.1 1205.0 518.5C1200.7 519.9 1197.1 520.8 1193.1 521.9C1189.2 523.0 1184.9 524.3 1181.3 525.3C1177.6 526.3 1174.2 527.3 1171.1 527.8C1168.0 528.4 1164.9 529.4 1162.6 528.7C1160.4 528.0 1158.5 526.4 1157.6 523.6C1156.6 520.8 1156.4 516.8 1156.7 511.7Z"/>
</g>
<rect class="f" x="968.9" y="63.9" width="791.7" height="507.4"/>
<text class="t" text-anchor="middle" transform="translate(1067.1 607.8) scale(1 1.06)">0</text>
<text class="t" text-anchor="middle" transform="translate(1175.3 607.8) scale(1 1.06)">20</text>
<text class="t" text-anchor="middle" transform="translate(1283.6 607.8) scale(1 1.06)">40</text>
<text class="t" text-anchor="middle" transform="translate(1391.8 607.8) scale(1 1.06)">60</text>
<text class="t" text-anchor="middle" transform="translate(1500.1 607.8) scale(1 1.06)">80</text>
<text class="t" text-anchor="middle" transform="translate(1608.3 607.8) scale(1 1.06)">100</text>
<text class="t" text-anchor="middle" transform="translate(1716.5 607.8) scale(1 1.06)">120</text>
<text class="t" text-anchor="end" transform="translate(948.8 557.9) scale(1 1.06)">20</text>
<text class="t" text-anchor="end" transform="translate(948.8 449.8) scale(1 1.06)">40</text>
<text class="t" text-anchor="end" transform="translate(948.8 341.7) scale(1 1.06)">60</text>
<text class="t" text-anchor="end" transform="translate(948.8 233.7) scale(1 1.06)">80</text>
<text class="t" text-anchor="end" transform="translate(948.8 125.6) scale(1 1.06)">100</text>
<rect x="1438.0" y="75.4" width="310.5" height="170.6" rx="4.5" ry="4.5" fill="#fff" fill-opacity="0.8" stroke="#cccccc" stroke-width="1.4"/>
<circle cx="1470.4" cy="92.9" r="4.2" fill="#4c72b0"/>
<text class="t" transform="translate(1512.1 101.2) scale(1 1.03)">Ground Truth</text>
<circle cx="1470.4" cy="125.7" r="4.2" fill="#dd8452"/>
<text class="t" transform="translate(1512.1 134.0) scale(1 1.03)">Shape Estimation</text>
<circle cx="1470.4" cy="158.5" r="4.2" fill="#55a868"/>
<text class="t" transform="translate(1512.1 166.8) scale(1 1.03)">Domain Mapping RF</text>
<circle cx="1470.4" cy="191.3" r="4.2" fill="#c44e52"/>
<text class="t" transform="translate(1512.1 199.6) scale(1 1.03)">Domain Mapping MLP</text>
<circle cx="1470.4" cy="224.1" r="4.2" fill="#8172b3"/>
<text class="t" transform="translate(1512.1 232.4) scale(1 1.03)">Average Leaflet</text>
</g>
<g id="panelC">
<text class="pl" transform="translate(420.3 724.2) scale(1 1.05)">C</text>
<path class="g" d="M619.2 738.4V1245.7M725.9 738.4V1245.7M832.6 738.4V1245.7M939.4 738.4V1245.7M1046.1 738.4V1245.7M1152.8 738.4V1245.7M1259.5 738.4V1245.7M516.7 1224.9H1308.3M516.7 1117.9H1308.3M516.7 1010.9H1308.3M516.7 903.8H1308.3M516.7 796.8H1308.3"/>
<clipPath id="cp2"><rect x="516.7" y="738.4" width="791.6" height="507.3"/></clipPath>
<g clip-path="url(#cp2)">
<path class="c" stroke="#4c72b0" d="M723.6 1171.5C724.1 1169.8 726.0 1169.0 727.0 1166.4C728.0 1163.9 729.1 1160.2 729.6 1156.3C730.1 1152.3 730.0 1147.2 729.9 1142.7C729.9 1138.2 729.7 1133.7 729.2 1129.2C728.8 1124.7 727.8 1120.1 727.0 1115.6C726.2 1111.1 725.5 1106.6 724.5 1102.1C723.5 1097.6 722.2 1092.8 721.1 1088.5C720.0 1084.3 718.8 1079.4 718.1 1076.7C717.4 1074.0 717.8 1075.6 716.9 1072.3C716.0 1069.0 714.5 1062.4 712.6 1057.1C710.8 1051.7 708.1 1045.2 705.9 1040.1C703.6 1035.0 700.8 1030.5 699.1 1026.6C697.4 1022.6 696.7 1020.1 695.7 1016.4C694.8 1012.8 694.0 1008.5 693.3 1004.6C692.7 1000.6 691.6 996.7 691.6 992.7C691.7 988.8 692.4 985.1 693.7 980.9C695.0 976.6 697.6 971.8 699.4 967.3C701.2 962.8 703.0 958.3 704.5 953.8C706.0 949.3 707.3 944.8 708.4 940.2C709.5 935.7 710.2 932.4 711.3 926.7C712.4 921.0 714.1 911.6 715.2 905.8C716.3 900.1 716.9 897.9 717.7 892.3C718.6 886.6 719.4 878.2 720.3 872.0C721.1 865.8 722.1 860.7 722.8 855.0C723.5 849.4 724.4 842.9 724.5 838.1C724.6 833.3 723.9 829.9 723.6 826.3C723.4 822.6 722.2 818.6 722.8 816.1C723.4 813.6 725.1 811.7 727.0 811.0C729.0 810.3 732.0 811.3 734.7 811.9C737.3 812.4 740.3 813.3 743.1 814.4C745.9 815.5 748.8 817.5 751.6 818.6C754.4 819.8 757.2 820.6 760.0 821.2C762.9 821.7 766.3 821.6 768.5 822.0C770.8 822.5 771.6 823.9 773.6 823.7C775.6 823.6 778.4 822.2 780.4 821.2C782.3 820.2 783.5 818.4 785.4 817.8C787.4 817.2 789.8 816.8 792.2 817.8C794.6 818.8 797.0 821.0 799.8 823.7C802.7 826.4 806.1 830.5 809.1 833.9C812.2 837.3 815.6 841.2 817.9 844.0C820.3 846.9 821.2 848.5 823.0 850.8C824.9 853.2 827.1 855.8 829.1 858.1C831.1 860.4 832.7 862.6 834.9 864.9C837.0 867.1 839.7 869.1 842.2 871.6C844.6 874.2 847.5 877.4 849.4 880.1C851.4 882.8 852.3 885.5 854.0 888.1C855.7 890.6 857.6 892.9 859.6 895.3C861.6 897.7 863.8 899.9 865.9 902.4C867.9 905.0 869.9 908.4 871.8 910.9C873.6 913.5 875.0 914.2 876.9 917.7C878.7 921.2 881.7 926.9 882.8 931.8C883.9 936.7 883.6 942.5 883.6 947.0C883.6 951.5 883.3 955.2 882.8 958.9C882.3 962.5 881.0 965.6 880.6 969.0C880.2 972.4 880.1 976.1 880.6 979.2C881.1 982.3 882.8 984.8 883.6 987.6C884.5 990.5 885.5 993.0 885.7 996.1C885.8 999.2 885.1 1002.3 884.5 1006.3C883.9 1010.2 882.9 1015.3 881.9 1019.8C881.0 1024.3 879.7 1029.1 878.6 1033.4C877.4 1037.6 876.4 1041.3 875.2 1045.2C873.9 1049.2 872.5 1053.1 870.9 1057.1C869.4 1061.0 867.4 1065.0 865.9 1068.9C864.3 1072.9 863.2 1076.8 861.6 1080.8C860.1 1084.7 858.2 1088.9 856.5 1092.6C854.9 1096.3 853.4 1099.9 851.5 1102.8C849.5 1105.6 846.4 1107.3 844.7 1109.5C843.0 1111.8 842.7 1113.9 841.3 1116.3C839.9 1118.7 838.8 1121.1 836.2 1124.1C833.7 1127.1 829.5 1130.9 826.1 1134.3C822.7 1137.6 819.0 1141.3 815.9 1144.4C812.8 1147.5 810.0 1151.7 807.4 1152.9C804.9 1154.0 802.9 1150.9 800.7 1151.2C798.4 1151.5 796.2 1153.7 793.9 1154.6C791.6 1155.4 789.4 1156.0 787.1 1156.3C784.9 1156.5 782.2 1155.4 780.4 1156.3C778.5 1157.1 777.3 1159.1 776.1 1161.3C775.0 1163.6 774.9 1167.7 773.6 1169.8C772.3 1171.9 770.5 1174.0 768.5 1174.0C766.5 1174.0 763.9 1171.4 761.7 1169.8C759.6 1168.3 757.8 1165.2 755.8 1164.7C753.8 1164.3 752.0 1166.0 749.9 1167.3C747.8 1168.5 745.4 1171.4 743.1 1172.3C740.9 1173.3 738.5 1172.5 736.3 1173.2C734.2 1173.9 732.4 1176.0 730.4 1176.6C728.4 1177.1 725.6 1177.4 724.5 1176.6C723.4 1175.7 723.2 1173.2 723.6 1171.5Z"/>
<path class="c" stroke="#dd8452" d="M711.3 1191.8C711.1 1186.9 712.8 1176.3 713.3 1168.1C713.9 1159.9 714.3 1152.6 714.7 1142.7C715.0 1132.8 715.3 1118.5 715.3 1108.9C715.4 1099.3 715.3 1090.4 715.0 1085.2C714.7 1079.9 714.2 1081.5 713.7 1077.4C713.1 1073.3 712.6 1066.1 712.0 1060.4C711.3 1054.8 710.4 1049.2 709.6 1043.5C708.7 1037.9 707.8 1032.2 706.9 1026.6C706.0 1020.9 704.9 1015.3 704.2 1009.7C703.5 1004.0 702.8 998.4 702.8 992.7C702.8 987.1 703.6 982.8 704.3 975.8C705.1 968.7 706.7 958.3 707.6 950.4C708.5 942.5 709.0 934.4 709.8 928.4C710.5 922.4 711.4 920.9 712.1 914.3C712.9 907.7 713.7 897.4 714.3 888.9C714.9 880.4 715.5 872.0 715.7 863.5C715.9 855.0 715.5 846.6 715.3 838.1C715.2 829.7 714.8 819.2 714.5 812.7C714.2 806.2 713.8 802.8 713.7 799.2C713.5 795.5 712.2 792.0 713.5 790.7C714.7 789.4 718.4 790.9 721.1 791.6C723.8 792.3 726.2 793.7 729.6 794.9C733.0 796.2 737.2 797.9 741.4 799.2C745.7 800.4 750.5 801.6 755.0 802.6C759.5 803.5 764.6 804.3 768.5 805.1C772.5 805.9 775.2 806.6 778.7 807.6C782.1 808.7 786.0 809.6 789.2 811.4C792.3 813.1 794.5 815.5 797.6 818.1C800.7 820.8 804.4 824.3 807.8 827.4C811.2 830.6 814.6 834.1 817.9 837.3C821.3 840.5 824.6 843.5 827.8 846.6C830.9 849.6 833.8 852.4 836.7 855.6C839.7 858.7 842.5 861.9 845.5 865.5C848.6 869.2 852.0 873.6 854.9 877.4C857.7 881.1 860.0 884.5 862.5 888.1C864.9 891.6 867.1 894.8 869.4 898.7C871.8 902.7 874.5 907.1 876.5 911.8C878.6 916.4 880.1 921.7 881.6 926.7C883.1 931.7 884.3 936.6 885.3 941.9C886.4 947.3 887.3 953.2 888.0 958.9C888.8 964.5 889.5 970.1 889.9 975.8C890.3 981.4 890.5 987.1 890.6 992.7C890.6 998.4 890.5 1004.0 890.1 1009.7C889.6 1015.3 888.8 1020.4 887.7 1026.6C886.6 1032.8 885.0 1040.7 883.3 1046.9C881.6 1053.1 879.9 1058.2 877.7 1063.8C875.5 1069.5 871.7 1077.1 870.1 1080.8C868.5 1084.4 869.8 1082.7 868.2 1085.5C866.7 1088.3 863.1 1093.9 860.8 1097.7C858.4 1101.5 856.7 1104.7 854.2 1108.2C851.7 1111.6 848.8 1115.0 845.7 1118.3C842.6 1121.7 838.9 1125.4 835.6 1128.5C832.2 1131.6 828.8 1133.9 825.4 1137.0C822.0 1140.1 818.6 1143.7 815.2 1147.1C811.9 1150.5 808.5 1153.9 805.1 1157.3C801.7 1160.6 798.2 1164.4 794.8 1167.3C791.3 1170.2 788.1 1172.5 784.3 1174.7C780.4 1176.9 776.2 1178.6 771.9 1180.3C767.6 1182.0 762.9 1183.5 758.4 1185.0C753.8 1186.5 749.3 1187.9 744.8 1189.3C740.3 1190.7 735.2 1192.2 731.3 1193.5C727.3 1194.8 723.9 1196.2 721.1 1196.9C718.3 1197.6 716.0 1198.6 714.3 1197.7C712.7 1196.9 711.5 1196.8 711.3 1191.8Z"/>
<path class="c" stroke="#55a868" d="M707.9 1193.5C708.6 1188.3 710.1 1176.6 710.9 1168.1C711.8 1159.7 712.5 1152.6 713.0 1142.7C713.5 1132.8 713.7 1118.5 713.8 1108.9C713.9 1099.3 713.8 1090.4 713.5 1085.2C713.1 1079.9 712.5 1081.5 711.8 1077.4C711.1 1073.3 710.2 1066.1 709.3 1060.4C708.3 1054.8 707.1 1049.2 705.9 1043.5C704.6 1037.9 703.0 1032.2 701.6 1026.6C700.2 1020.9 698.4 1015.3 697.4 1009.7C696.4 1004.0 695.6 998.4 695.7 992.7C695.9 987.1 696.8 982.8 698.3 975.8C699.7 968.7 702.6 958.3 704.2 950.4C705.7 942.5 706.5 934.4 707.6 928.4C708.6 922.4 709.8 920.9 710.6 914.3C711.5 907.7 712.1 897.4 712.6 888.9C713.2 880.4 713.8 872.0 714.0 863.5C714.2 855.0 714.2 846.6 714.0 838.1C713.8 829.7 713.5 819.8 713.0 812.7C712.5 805.7 711.5 800.2 710.9 795.8C710.4 791.4 709.1 788.7 709.6 786.1C710.1 783.6 711.8 781.4 714.0 780.7C716.2 780.1 718.8 781.0 722.8 782.2C726.8 783.5 733.2 786.7 738.0 788.2C742.8 789.7 747.1 790.4 751.6 791.2C756.1 792.0 760.6 792.3 765.1 792.9C769.6 793.5 774.7 794.0 778.7 794.8C782.6 795.6 785.9 796.5 788.8 797.8C791.8 799.1 794.0 800.8 796.4 802.6C798.8 804.3 800.8 806.5 803.2 808.5C805.6 810.5 807.8 812.1 810.8 814.8C813.9 817.4 817.8 821.1 821.3 824.6C824.9 828.0 828.7 832.0 832.0 835.6C835.3 839.1 838.2 842.1 841.3 845.7C844.4 849.4 847.5 853.5 850.6 857.6C853.7 861.7 857.0 865.9 859.9 870.3C862.9 874.7 865.7 879.3 868.4 883.8C871.1 888.3 873.6 893.0 876.0 897.4C878.4 901.7 880.8 905.2 882.8 910.1C884.8 915.0 886.3 921.4 887.9 926.7C889.4 932.0 890.8 936.6 892.1 941.9C893.4 947.3 894.6 953.2 895.5 958.9C896.4 964.5 897.1 970.1 897.7 975.8C898.3 981.4 898.7 987.1 898.9 992.7C899.0 998.4 898.9 1004.0 898.5 1009.7C898.2 1015.3 897.6 1020.9 896.8 1026.6C896.0 1032.2 895.3 1037.6 893.8 1043.5C892.3 1049.4 890.0 1056.2 887.9 1062.1C885.8 1068.1 882.6 1075.5 881.1 1079.1C879.5 1082.6 880.1 1080.6 878.6 1083.5C877.0 1086.3 874.3 1091.7 871.8 1096.2C869.3 1100.6 866.4 1105.8 863.7 1110.2C860.9 1114.6 858.3 1118.3 855.2 1122.4C852.1 1126.5 848.4 1130.9 845.0 1134.6C841.6 1138.3 838.5 1141.0 834.9 1144.8C831.2 1148.5 827.0 1153.3 823.0 1157.1C819.1 1160.9 815.1 1164.3 811.2 1167.8C807.2 1171.2 803.3 1174.8 799.3 1177.9C795.3 1181.1 791.6 1184.2 787.1 1186.7C782.7 1189.2 777.5 1191.3 772.7 1193.0C767.9 1194.8 763.0 1195.9 758.4 1197.2C753.7 1198.5 749.3 1199.5 744.8 1200.8C740.3 1202.1 735.2 1203.6 731.3 1204.9C727.3 1206.1 724.1 1207.4 721.1 1208.2C718.1 1209.0 715.6 1209.9 713.5 1209.6C711.4 1209.3 709.5 1207.9 708.4 1206.2C707.3 1204.5 707.0 1201.6 706.9 1199.4C706.8 1197.3 707.2 1198.7 707.9 1193.5Z"/>
<path class="c" stroke="#c44e52" d="M703.8 1210.4C703.6 1205.9 703.9 1200.6 704.2 1193.5C704.5 1186.5 705.1 1176.6 705.5 1168.1C706.0 1159.7 706.4 1152.6 706.7 1142.7C707.0 1132.8 707.2 1118.5 707.2 1108.9C707.3 1099.3 707.0 1090.4 706.9 1085.2C706.8 1079.9 707.0 1081.5 706.7 1077.4C706.5 1073.3 705.9 1066.1 705.4 1060.4C704.9 1054.8 704.2 1049.2 703.7 1043.5C703.1 1037.9 702.5 1032.2 702.0 1026.6C701.4 1020.9 700.7 1015.3 700.3 1009.7C699.8 1004.0 699.3 998.4 699.3 992.7C699.2 987.1 699.5 982.8 699.9 975.8C700.3 968.7 701.0 958.3 701.6 950.4C702.3 942.5 703.0 934.4 703.7 928.4C704.3 922.4 704.8 920.9 705.5 914.3C706.3 907.7 707.6 897.4 708.2 888.9C708.9 880.4 709.4 872.0 709.6 863.5C709.8 855.0 709.7 846.6 709.6 838.1C709.5 829.7 709.1 821.2 708.7 812.7C708.4 804.3 707.7 794.2 707.2 787.3C706.7 780.5 705.8 775.9 705.9 771.7C706.0 767.6 706.4 764.7 707.7 762.6C709.1 760.5 711.5 759.7 714.0 759.4C716.5 759.1 719.4 759.8 722.8 760.7C726.2 761.7 730.4 763.7 734.7 765.0C738.9 766.3 743.7 767.5 748.2 768.7C752.7 769.9 757.2 770.8 761.7 772.1C766.3 773.4 770.8 774.8 775.3 776.3C779.8 777.9 784.3 779.4 788.8 781.4C793.3 783.4 798.3 785.7 802.4 788.2C806.5 790.6 809.8 793.1 813.4 796.1C817.0 799.1 820.5 802.8 824.0 806.3C827.6 809.8 831.3 813.4 834.9 817.0C838.5 820.5 842.0 824.0 845.5 827.4C849.1 830.9 853.0 834.2 856.2 837.8C859.4 841.3 862.2 844.9 864.7 848.6C867.1 852.3 869.0 855.9 870.9 860.1C872.9 864.3 874.9 869.2 876.4 873.7C877.8 878.2 879.0 882.7 879.9 887.2C880.9 891.7 881.5 896.2 882.1 900.8C882.7 905.3 883.2 909.1 883.6 914.3C884.1 919.5 884.5 925.8 885.0 931.8C885.4 937.8 885.7 943.1 886.3 950.4C887.0 957.7 888.1 967.3 888.7 975.8C889.3 984.3 889.8 992.7 889.9 1001.2C890.0 1009.7 889.8 1018.1 889.6 1026.6C889.3 1035.0 888.9 1044.4 888.4 1052.0C887.8 1059.6 887.3 1066.2 886.3 1072.3C885.4 1078.4 884.2 1083.9 882.8 1088.5C881.3 1093.2 879.5 1096.4 877.7 1100.4C875.9 1104.3 873.9 1108.3 871.8 1112.2C869.7 1116.2 867.3 1119.9 865.0 1124.1C862.8 1128.3 860.5 1133.4 858.2 1137.6C856.0 1141.9 854.0 1145.5 851.5 1149.5C848.9 1153.4 845.8 1157.7 843.0 1161.3C840.2 1165.0 837.6 1168.1 834.5 1171.5C831.4 1174.9 828.0 1178.6 824.4 1181.7C820.7 1184.8 816.5 1187.6 812.5 1190.1C808.6 1192.7 804.6 1194.9 800.7 1196.9C796.7 1198.9 793.1 1200.6 788.8 1202.0C784.6 1203.4 779.8 1204.4 775.3 1205.4C770.8 1206.3 766.3 1206.9 761.7 1207.9C757.2 1208.9 752.4 1210.0 748.2 1211.3C744.0 1212.6 740.0 1214.0 736.3 1215.5C732.7 1217.1 729.3 1219.0 726.2 1220.6C723.1 1222.2 720.3 1223.8 717.7 1224.8C715.2 1225.8 712.9 1227.2 710.9 1226.5C709.0 1225.8 707.1 1223.3 705.9 1220.6C704.7 1217.9 704.1 1215.0 703.8 1210.4Z"/>
<path class="c" stroke="#8172b3" d="M709.3 1186.7C709.7 1181.7 711.1 1175.5 711.8 1168.1C712.5 1160.8 713.1 1152.6 713.5 1142.7C713.9 1132.8 714.2 1118.5 714.3 1108.9C714.4 1099.3 714.3 1090.4 714.0 1085.2C713.7 1079.9 713.1 1081.5 712.6 1077.4C712.1 1073.3 711.7 1066.1 710.9 1060.4C710.2 1054.8 709.3 1049.2 708.4 1043.5C707.6 1037.9 706.8 1032.2 705.9 1026.6C704.9 1020.9 703.5 1015.3 702.8 1009.7C702.1 1004.0 701.6 998.4 701.6 992.7C701.7 987.1 702.5 982.8 703.3 975.8C704.1 968.7 705.5 958.3 706.4 950.4C707.2 942.5 707.6 934.4 708.4 928.4C709.2 922.4 710.2 920.9 710.9 914.3C711.7 907.7 712.2 897.4 712.6 888.9C713.1 880.4 713.4 872.0 713.5 863.5C713.5 855.0 713.3 846.6 713.0 838.1C712.6 829.7 711.9 819.8 711.3 812.7C710.7 805.7 709.7 800.4 709.3 795.8C708.8 791.1 707.8 787.6 708.4 784.8C709.0 782.0 710.5 779.7 712.6 778.9C714.8 778.0 717.4 778.7 721.1 779.7C724.8 780.7 730.1 783.4 734.7 784.8C739.2 786.2 743.7 787.3 748.2 788.2C752.7 789.0 757.2 789.3 761.7 789.9C766.3 790.4 771.3 790.9 775.3 791.6C779.2 792.3 782.3 793.1 785.4 794.1C788.5 795.1 791.4 795.9 793.9 797.5C796.4 799.0 798.1 800.9 800.7 803.4C803.2 805.9 806.2 809.3 809.1 812.7C812.1 816.1 815.3 819.9 818.5 823.7C821.6 827.5 824.8 831.8 827.8 835.6C830.7 839.4 833.4 842.8 836.2 846.6C839.1 850.4 841.8 854.5 844.7 858.4C847.6 862.4 850.7 866.0 853.5 870.3C856.3 874.5 859.1 879.3 861.6 883.8C864.2 888.3 866.4 892.9 868.9 897.4C871.4 901.9 874.0 905.7 876.5 910.9C879.0 916.1 882.1 923.2 884.0 928.4C885.9 933.6 886.7 936.9 887.9 941.9C889.1 947.0 890.3 953.2 891.3 958.9C892.2 964.5 893.0 970.1 893.5 975.8C893.9 981.4 894.1 987.1 894.1 992.7C894.2 998.4 894.1 1004.0 893.8 1009.7C893.5 1015.3 892.9 1020.9 892.1 1026.6C891.3 1032.2 890.0 1037.9 888.7 1043.5C887.4 1049.2 886.2 1054.8 884.5 1060.4C882.8 1066.1 879.8 1073.5 878.6 1077.4C877.3 1081.2 878.3 1080.5 876.9 1083.5C875.5 1086.5 872.6 1091.1 870.1 1095.3C867.6 1099.5 864.4 1104.6 861.6 1108.9C858.8 1113.1 856.3 1116.8 853.2 1120.7C850.1 1124.7 846.4 1128.9 843.0 1132.6C839.6 1136.2 836.5 1139.1 832.8 1142.7C829.2 1146.4 824.9 1150.9 821.0 1154.6C817.0 1158.2 813.1 1161.3 809.1 1164.7C805.2 1168.1 801.2 1171.8 797.3 1174.9C793.3 1178.0 789.7 1181.0 785.4 1183.4C781.2 1185.8 776.4 1187.6 771.9 1189.3C767.4 1191.0 762.9 1192.2 758.4 1193.5C753.8 1194.8 749.3 1195.6 744.8 1196.9C740.3 1198.2 735.2 1199.9 731.3 1201.1C727.3 1202.4 724.1 1204.0 721.1 1204.5C718.1 1205.1 715.5 1205.5 713.5 1204.5C711.5 1203.5 710.0 1201.6 709.3 1198.6C708.5 1195.6 708.8 1191.8 709.3 1186.7Z"/>
</g>
<rect class="f" x="516.7" y="738.4" width="791.6" height="507.3"/>
<text class="t" text-anchor="middle" transform="translate(619.2 1282.2) scale(1 1.06)">0</text>
<text class="t" text-anchor="middle" transform="translate(725.9 1282.2) scale(1 1.06)">20</text>
<text class="t" text-anchor="middle" transform="translate(832.6 1282.2) scale(1 1.06)">40</text>
<text class="t" text-anchor="middle" transform="translate(939.4 1282.2) scale(1 1.06)">60</text>
<text class="t" text-anchor="middle" transform="translate(1046.1 1282.2) scale(1 1.06)">80</text>
<text class="t" text-anchor="middle" transform="translate(1152.8 1282.2) scale(1 1.06)">100</text>
<text class="t" text-anchor="middle" transform="translate(1259.5 1282.2) scale(1 1.06)">120</text>
<text class="t" text-anchor="end" transform="translate(496.6 1233.2) scale(1 1.06)">20</text>
<text class="t" text-anchor="end" transform="translate(496.6 1126.2) scale(1 1.06)">40</text>
<text class="t" text-anchor="end" transform="translate(496.6 1019.2) scale(1 1.06)">60</text>
<text class="t" text-anchor="end" transform="translate(496.6 912.1) scale(1 1.06)">80</text>
<text class="t" text-anchor="end" transform="translate(496.6 805.1) scale(1 1.06)">100</text>
<rect x="985.8" y="749.9" width="310.5" height="170.6" rx="4.5" ry="4.5" fill="#fff" fill-opacity="0.8" stroke="#cccccc" stroke-width="1.4"/>
<circle cx="1018.2" cy="767.4" r="4.2" fill="#4c72b0"/>
<text class="t" transform="translate(1059.9 775.7) scale(1 1.03)">Ground Truth</text>
<circle cx="1018.2" cy="800.2" r="4.2" fill="#dd8452"/>
<text class="t" transform="translate(1059.9 808.5) scale(1 1.03)">Shape Estimation</text>
<circle cx="1018.2" cy="833.0" r="4.2" fill="#55a868"/>
<text class="t" transform="translate(1059.9 841.3) scale(1 1.03)">Domain Mapping RF</text>
<circle cx="1018.2" cy="865.8" r="4.2" fill="#c44e52"/>
<text class="t" transform="translate(1059.9 874.1) scale(1 1.03)">Domain Mapping MLP</text>
<circle cx="1018.2" cy="898.6" r="4.2" fill="#8172b3"/>
<text class="t" transform="translate(1059.9 906.9) scale(1 1.03)">Average Leaflet</text>
</g>
</svg></body></html>
